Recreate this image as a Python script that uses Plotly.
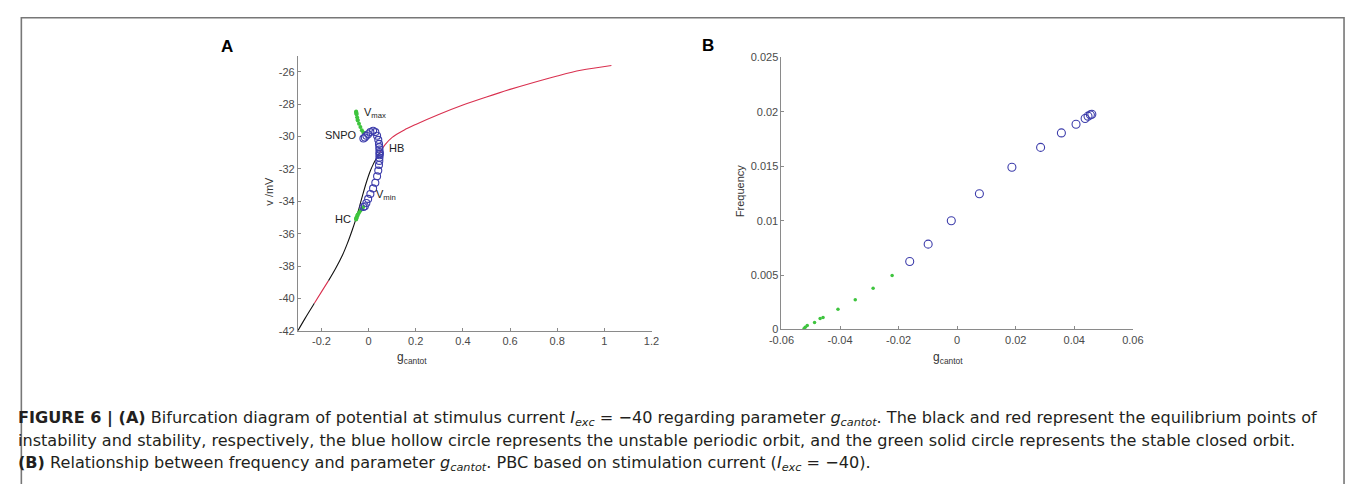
import plotly.graph_objects as go

W, H = 1357, 484

# ---------------- data: panel A ----------------
eq_black1_g = [-0.30, -0.27, -0.23]
eq_black1_v = [-42.0, -41.25, -40.3]
eq_red1_g = [-0.23, -0.20, -0.17]
eq_red1_v = [-40.3, -39.6, -38.9]
eq_black2_g = [-0.17, -0.14, -0.11, -0.09, -0.07, -0.054, -0.04, -0.025, -0.01, 0.005, 0.02, 0.035, 0.047]
eq_black2_v = [-38.9, -38.15, -37.3, -36.6, -35.8, -35.1, -34.4, -33.6, -32.85, -32.2, -31.7, -31.3, -31.0]
eq_red2_g = [0.047, 0.07, 0.10, 0.15, 0.20, 0.30, 0.40, 0.50, 0.60, 0.70, 0.80, 0.90, 1.03]
eq_red2_v = [-31.0, -30.5, -30.05, -29.6, -29.25, -28.62, -28.05, -27.55, -27.08, -26.65, -26.25, -25.9, -25.6]

po_g = [-0.022, -0.016, -0.0095, -0.002, 0.0075, 0.019, 0.0285, 0.036, 0.041, 0.044, 0.0455, 0.046, 0.0465, 0.047]
po_vmax = [-30.12, -30.05, -29.95, -29.85, -29.72, -29.64, -29.72, -29.95, -30.2, -30.45, -30.65, -30.8, -30.95, -31.05]
po_vmin = [-34.35, -34.3, -34.1, -33.85, -33.55, -33.2, -32.85, -32.45, -32.1, -31.75, -31.5, -31.3, -31.15, -31.05]

so_g = [-0.053, -0.0523, -0.0519, -0.0512, -0.0487, -0.0468, -0.0458, -0.0407, -0.0348, -0.0287, -0.0222]
so_vmax = [-28.45, -28.5, -28.55, -28.62, -28.8, -28.95, -29.0, -29.2, -29.4, -29.6, -29.75]
so_vmin = [-35.12, -35.08, -35.05, -35.0, -34.92, -34.85, -34.82, -34.7, -34.58, -34.46, -34.35]

# ---------------- data: panel B ----------------
freq_po_g = [-0.0162, -0.0099, -0.002, 0.0076, 0.0187, 0.0285, 0.0356, 0.0406, 0.0437, 0.0447, 0.0455, 0.046]
freq_po_f = [0.00624, 0.00784, 0.00999, 0.01247, 0.0149, 0.01673, 0.01806, 0.01886, 0.01939, 0.0196, 0.01972, 0.01977]
freq_so_g = [-0.0523, -0.0519, -0.0512, -0.0487, -0.0468, -0.0458, -0.0407, -0.0348, -0.0287, -0.0222]
freq_so_f = [0.00006, 0.0002, 0.00036, 0.00065, 0.001, 0.0011, 0.00186, 0.00272, 0.00379, 0.00497]

xticksA = [-0.2, 0, 0.2, 0.4, 0.6, 0.8, 1, 1.2]
yticksA = [-42, -40, -38, -36, -34, -32, -30, -28, -26]
xticksB = [-0.06, -0.04, -0.02, 0, 0.02, 0.04, 0.06]
yticksB = [0, 0.005, 0.01, 0.015, 0.02, 0.025]

BLUE = "#3d3dab"
GREEN = "#3ec43e"
RED = "#d9304f"

fig = go.Figure()

def line(x, y, color, xa, ya):
    fig.add_trace(go.Scatter(x=x, y=y, mode="lines",
                             line=dict(color=color, width=1.1, shape="spline", smoothing=1.0),
                             xaxis=xa, yaxis=ya, showlegend=False, hoverinfo="skip"))

line(eq_black1_g, eq_black1_v, "#111111", "x", "y")
line(eq_red1_g, eq_red1_v, RED, "x", "y")
line(eq_black2_g, eq_black2_v, "#111111", "x", "y")
line(eq_red2_g, eq_red2_v, RED, "x", "y")

for vv in (so_vmax, so_vmin):
    fig.add_trace(go.Scatter(x=so_g, y=vv, mode="markers",
                             marker=dict(color=GREEN, size=4, line=dict(width=0)),
                             xaxis="x", yaxis="y", showlegend=False))
for vv in (po_vmax, po_vmin):
    fig.add_trace(go.Scatter(x=po_g, y=vv, mode="markers",
                             marker=dict(symbol="circle-open", color=BLUE, size=7, line=dict(width=1.1)),
                             xaxis="x", yaxis="y", showlegend=False))

fig.add_trace(go.Scatter(x=freq_so_g, y=freq_so_f, mode="markers",
                         marker=dict(color=GREEN, size=3.5, line=dict(width=0)),
                         xaxis="x2", yaxis="y2", showlegend=False))
fig.add_trace(go.Scatter(x=freq_po_g, y=freq_po_f, mode="markers",
                         marker=dict(symbol="circle-open", color=BLUE, size=8, line=dict(width=1.1)),
                         xaxis="x2", yaxis="y2", showlegend=False))

def px_x(p):
    return p / W

def px_y(p):
    return 1 - p / H

AX = dict(showgrid=False, zeroline=False, showline=True, linecolor="#8a8a8a", linewidth=1,
          ticks="inside", ticklen=3, tickcolor="#8a8a8a", mirror=False,
          tickfont=dict(family="Liberation Sans, Arial", size=11, color="#4a4a4a"))

fig.update_layout(
    width=W, height=H, margin=dict(l=0, r=0, t=0, b=0),
    paper_bgcolor="white", plot_bgcolor="white",
    xaxis=dict(AX, domain=[px_x(290), px_x(650)], range=[-0.3, 1.2], tickvals=xticksA,
               ticktext=[str(t) for t in xticksA], anchor="y"),
    yaxis=dict(AX, domain=[px_y(333), px_y(51)], range=[-42, -25], tickvals=yticksA,
               ticktext=[str(t) for t in yticksA], anchor="x"),
    xaxis2=dict(AX, domain=[px_x(782.3), px_x(1140)], range=[-0.06, 0.06], tickvals=xticksB,
                ticktext=[str(t) for t in xticksB], anchor="y2"),
    yaxis2=dict(AX, domain=[px_y(331.7), px_y(52.7)], range=[0, 0.025], tickvals=yticksB,
                ticktext=[str(t) for t in yticksB], anchor="x2"),
)

ann = []
def A(x, y, text, size=11, color="#222", xanchor="center", yanchor="middle",
      family="Liberation Sans, Arial", **kw):
    ann.append(dict(x=px_x(x), y=px_y(y), xref="paper", yref="paper", text=text, showarrow=False,
                    xanchor=xanchor, yanchor=yanchor,
                    font=dict(family=family, size=size, color=color), **kw))

# panel letters
A(218, 42, "<b>A</b>", size=17, color="#000")
A(708, 40, "<b>B</b>", size=17, color="#000")
# axis titles
A(261, 190, "v /mV", size=11, color="#333", textangle=-90)
A(740, 190, "Frequency", size=11, color="#333", textangle=-90)
A(406, 361, "g<sub>cantot</sub>", size=12, color="#333")
A(952, 361, "g<sub>cantot</sub>", size=12, color="#333")
# annotations in A
A(355, 110, "V<sub>max</sub>", size=11, color="#222", xanchor="left")
A(334, 132, "SNPO", size=11)
A(390, 146, "HB", size=11)
A(368, 194, "V<sub>min</sub>", size=11, color="#222", xanchor="left")
A(336, 218, "HC", size=11)

# caption
CAP = 16.1
CF = "DejaVu Sans"
cap1 = ("<b>FIGURE 6 | (A)</b> Bifurcation diagram of potential at stimulus current <i>I<sub>exc</sub></i> = \u221240 "
        "regarding parameter <i>g<sub>cantot</sub></i>. The black and red represent the equilibrium points of")
cap2 = ("instability and stability, respectively, the blue hollow circle represents the unstable periodic orbit, "
        "and the green solid circle represents the stable closed orbit.")
cap3 = ("<b>(B)</b> Relationship between frequency and parameter <i>g<sub>cantot</sub></i>. "
        "PBC based on stimulation current (<i>I<sub>exc</sub></i> = \u221240).")
CX = 3
A(CX, 423, cap1, size=CAP, color="#231f20", xanchor="left", family=CF)
A(CX, 446, cap2, size=CAP, color="#231f20", xanchor="left", family=CF)
A(CX, 469, cap3, size=CAP, color="#231f20", xanchor="left", family=CF)

fig.update_layout(annotations=ann)

fig.add_shape(type="rect", xref="paper", yref="paper", x0=px_x(8.5), x1=px_x(1355), y0=px_y(600), y1=px_y(12),
              line=dict(color="#777", width=1.6), fillcolor="rgba(0,0,0,0)", layer="below")

fig.write_html("out.html")
